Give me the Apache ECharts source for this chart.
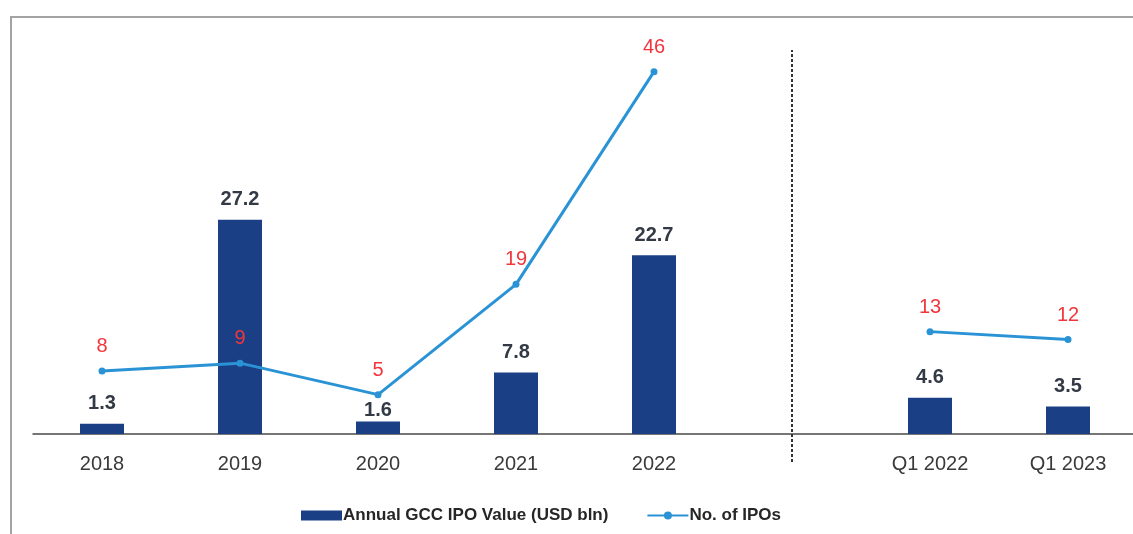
<!DOCTYPE html>
<html>
<head>
<meta charset="utf-8">
<script src="https://cdn.jsdelivr.net/npm/echarts@6/dist/echarts.min.js"></script>
<style>
html,body{margin:0;padding:0;background:#fff;}
#chart{width:1133px;height:534px;}
</style>
</head>
<body>
<div id="chart"></div>
<script>
const categories = ['2018', '2019', '2020', '2021', '2022', '', 'Q1 2022', 'Q1 2023'];
const ipoValue = [1.3, 27.2, 1.6, 7.8, 22.7, null, 4.6, 3.5];
const ipoCount = [8, 9, 5, 19, 46, null, 13, 12];
const seriesNames = ['Annual GCC IPO Value (USD bln)', 'No. of IPOs'];
const dividerIndex = 5;

const FONT = 'Liberation Sans';
// the 2020 value label sits closer to its bar in the original
const barData = ipoValue.map((v, i) => i === 2 ? { value: v, label: { distance: 1 } } : v);

const chart = echarts.init(document.getElementById('chart'));
chart.setOption({
  backgroundColor: '#ffffff',
  animation: false,
  graphic: [{
    type: 'rect',
    z: -1,
    shape: { x: 11, y: 17, width: 1140, height: 540 },
    style: { fill: 'none', stroke: '#a3a3a3', lineWidth: 2 }
  }],
  grid: { left: 33, width: 1104, top: 50, bottom: 72, containLabel: false, outerBoundsMode: 'none' },
  legend: {
    left: 296,
    top: 502,
    itemWidth: 41,
    itemHeight: 10,
    itemGap: 38,
    textStyle: { fontFamily: FONT, fontSize: 17, fontWeight: 'bold', color: '#262626', padding: [0, 0, 0, -4] },
    data: [
      { name: seriesNames[0], icon: 'rect' },
      { name: seriesNames[1] }
    ]
  },
  xAxis: {
    type: 'category',
    data: categories,
    axisLine: { onZero: true, lineStyle: { color: '#4a4a4a', width: 1.5 } },
    axisTick: { show: false },
    axisLabel: { fontFamily: FONT, fontSize: 20, color: '#3a3a3a', margin: -8, interval: 0 },
    splitLine: { show: false }
  },
  yAxis: [
    { type: 'value', min: -3.55, max: 48.75, show: false, splitLine: { show: false } },
    { type: 'value', min: -3.55, max: 48.75, show: false, splitLine: { show: false } }
  ],
  series: [
    {
      name: seriesNames[0],
      type: 'bar',
      yAxisIndex: 0,
      data: barData,
      barWidth: 44,
      itemStyle: { color: '#1a3f85' },
      label: {
        show: true, position: 'top', distance: 10,
        fontFamily: FONT, fontSize: 20, fontWeight: 'bold', color: '#333a45'
      },
      markLine: {
        silent: true,
        symbol: ['none', 'none'],
        label: { show: false },
        lineStyle: { color: '#333333', type: [3, 2], width: 2 },
        data: [{ xAxis: dividerIndex }]
      }
    },
    {
      name: seriesNames[1],
      type: 'line',
      yAxisIndex: 1,
      data: ipoCount,
      connectNulls: false,
      symbol: 'circle',
      symbolSize: 7,
      lineStyle: { color: '#2a93d5', width: 3 },
      itemStyle: { color: '#2a93d5' },
      label: {
        show: true, position: 'top', distance: 11,
        fontFamily: FONT, fontSize: 20, color: '#f0363c'
      },
      z: 3
    }
  ]
});
</script>
</body>
</html>
